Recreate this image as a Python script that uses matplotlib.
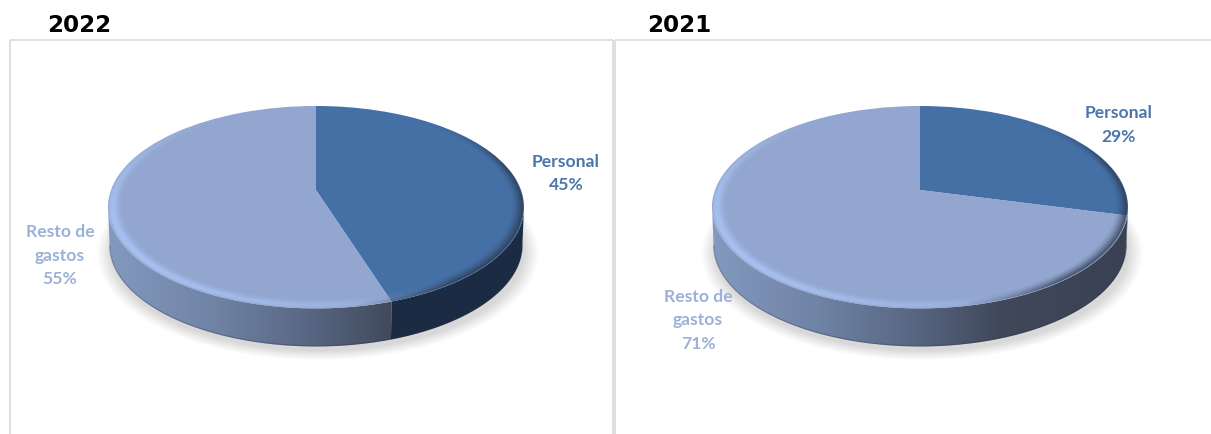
import numpy as np
import matplotlib
matplotlib.use("Agg")
import matplotlib.pyplot as plt
from matplotlib.transforms import Transform
from matplotlib.patches import Polygon
from matplotlib.colors import to_rgb

# ---- data ----
years = ["2022", "2021"]
categories = ["Personal", "Resto de\ngastos"]
values_2022 = [45, 55]
values_2021 = [29, 71]

# ---- style ----
TOP = ["#4470a5", "#92a6cf"]
LABEL = ["#4a76ab", "#9cb1d8"]
FRAME = "#d9d9d9"
W, H = 1211, 434
RX, RY, K, DEPTH = 205.0, 98.3, 0.17, 38
CY = 190


class Persp(Transform):
    input_dims = output_dims = 2
    is_separable = False
    has_inverse = False

    def __init__(self, cx, cy, rx, ry, k):
        super().__init__()
        self.cx, self.cy, self.rx, self.ry, self.k = cx, cy, rx, ry, k

    def transform_non_affine(self, xy):
        xy = np.asarray(xy, float)
        w = 1 + self.k * xy[:, 1]
        return np.c_[self.cx + self.rx * xy[:, 0] / w,
                     self.cy - self.ry * xy[:, 1] / w]


def ramp(x, stops):
    xs = [s[0] for s in stops]
    cols = np.array([to_rgb(s[1]) for s in stops])
    return np.stack([np.interp(x, xs, cols[:, i]) for i in range(3)], axis=-1)


WALL = [
    [(-208, "#1b2d46"), (208, "#1a2b43")],
    [(-208, "#8399bf"), (-100, "#6f83a5"), (0, "#566480"),
     (80, "#404859"), (208, "#394153")],
]

fig = plt.figure(figsize=(W / 100, H / 100), dpi=100)
ax = fig.add_axes([0, 0, 1, 1])


def draw_pie(values, cx, lab_xy, title_x, year):
    persp = Persp(cx, CY, RX, RY, K)
    base = Persp(cx, CY + DEPTH, RX * 0.992, RY, K)
    ext = (int(cx - 235), int(cx + 240), 372, 90)
    xs = np.arange(ext[0], ext[1]) + 0.5
    ys = np.arange(ext[3], ext[2]) + 0.5
    X, Y = np.meshgrid(xs, ys)

    def polar(p):
        yy = (p.cy - Y)
        v = yy / (p.ry - p.k * yy)
        u = (X - p.cx) * (1 + p.k * v) / p.rx
        return u, v, np.hypot(u, v)

    # soft shadow under the disc
    sh = Persp(cx + 2, CY + DEPTH + 7, RX * 1.012, RY, K)
    _, _, rs = polar(sh)
    a = np.clip((1.05 - rs) / 0.07, 0, 1) ** 1.1 * 0.62
    img = np.zeros(X.shape + (4,))
    img[..., :3] = 0.76
    img[..., 3] = a
    ax.imshow(img, extent=(ext[0], ext[1], ext[2], ext[3]), origin="upper",
              aspect="auto", zorder=1, interpolation="bilinear")

    wedges, _ = ax.pie(values, startangle=90, counterclock=False, colors=TOP,
                       radius=1, wedgeprops=dict(linewidth=0))
    ax.set_aspect("auto")

    # side walls
    lim_a = np.degrees(np.arcsin(K))
    lo, hi = -180 + lim_a, -lim_a
    for i, w in enumerate(wedges):
        t1, t2 = max(w.theta1, lo), min(w.theta2, hi)
        if t2 <= t1:
            continue
        th = np.radians(np.linspace(t1, t2, 200))
        arc = np.c_[np.cos(th), np.sin(th)]
        poly = np.vstack([persp.transform(arc), base.transform(arc)[::-1]])
        clip = Polygon(poly, closed=True, fc="none", ec="none",
                       transform=ax.transData)
        ax.add_patch(clip)
        grad = ramp(xs - cx, WALL[i])[None, :, :]
        im = ax.imshow(grad, extent=(ext[0], ext[1], 350, 200), origin="upper",
                       aspect="auto", zorder=2, interpolation="bilinear")
        im.set_clip_path(clip)
        edge = base.transform(arc)
        ax.plot(edge[:, 0], edge[:, 1] - 0.5, color="#2a3346", lw=0.9,
                alpha=0.3, zorder=2.5, solid_capstyle="butt")

    # top surface
    for w in wedges:
        w.set_transform(persp + ax.transData)
        w.set_zorder(3)

    # bevel overlay on the rim
    u, v, r = polar(persp)
    phi = np.arctan2(u, v)  # clockwise from top
    inside = np.clip((1.0 - r) / 0.008, 0, 1)
    light = np.clip(np.cos(phi + np.radians(125)), 0, 1) ** 1.1
    band = np.exp(-((r - 0.978) / 0.027) ** 2)
    dark = np.clip((u - 0.15) / 0.45, 0, 1) * np.clip((0.75 - v) / 0.5, 0, 1)
    dark = dark * np.clip((r - 0.94) / 0.06, 0, 1) ** 1.5
    la = light * band * 0.75
    da = dark * 0.9
    total = np.maximum(la + da, 1e-6)
    mix = (da / total)[..., None]
    bev = np.zeros(X.shape + (4,))
    bev[..., :3] = mix * np.array(to_rgb("#2a3448")) + \
        (1 - mix) * np.array(to_rgb("#aec9fb"))
    bev[..., 3] = np.clip(la + da, 0, 1) * inside
    ax.imshow(bev, extent=(ext[0], ext[1], ext[2], ext[3]), origin="upper",
              aspect="auto", zorder=4, interpolation="bilinear")

    # labels
    for i, (name, val) in enumerate(zip(categories, values)):
        lines = name.split("\n") + [f"{val}%"]
        x0, y0 = lab_xy[i]
        for j, line in enumerate(lines):
            ax.text(x0, y0 + j * 23.5, line, color=LABEL[i], family="Lato",
                    weight="bold", fontsize=12.6, ha="center", va="center",
                    zorder=6)

    ax.text(title_x, 26, year, color="black", family="DejaVu Sans", weight="bold",
            fontsize=16.6, ha="left", va="center", zorder=6)


draw_pie(values_2022, 316, [(566, 162), (60, 232)], 47, years[0])
draw_pie(values_2021, 920, [(1119, 113), (698, 297)], 647, years[1])

# panel frames
for xs_, ys_ in [((10, 10), (434, 40)), ((10, 613), (40, 40)), ((613, 613), (40, 434)),
                 ((615, 615), (434, 40)), ((615, 1211), (40, 40))]:
    ax.plot(xs_, ys_, color=FRAME, lw=1.2, zorder=5, solid_capstyle="butt")

ax.set_xlim(0, W)
ax.set_ylim(H, 0)
ax.set_aspect("auto")
ax.axis("off")
fig.savefig("out.png", dpi=100, facecolor="white")
